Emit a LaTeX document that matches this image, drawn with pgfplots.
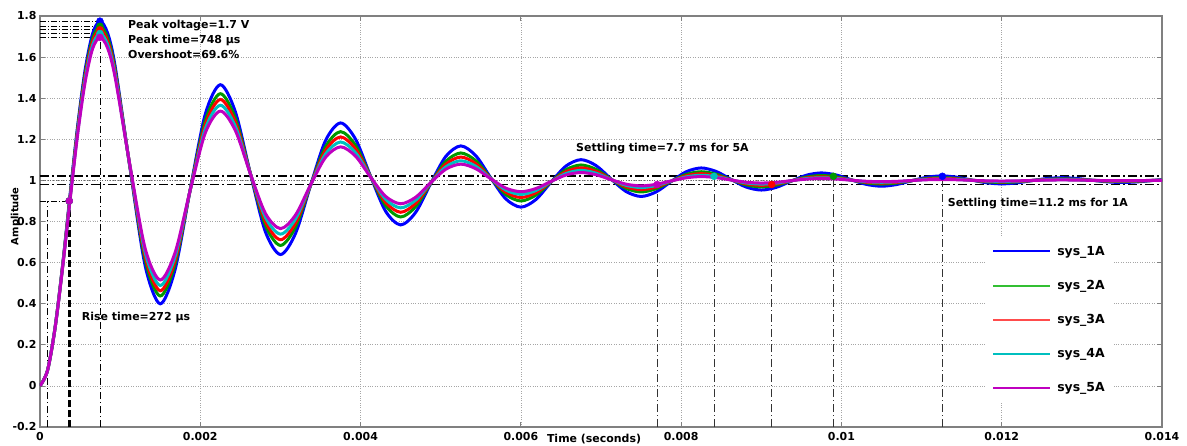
\documentclass[border=0pt]{standalone}
\usepackage{pgfplots}
\pgfplotsset{compat=1.18}
\usepackage{pgfplotstable}
\usepackage{fontspec}
\setmainfont{DejaVu Sans}
\definecolor{mblue}{rgb}{0,0,1}
\definecolor{mgreen}{rgb}{0,0.6,0}
\definecolor{mred}{rgb}{1,0,0}
\definecolor{mcyan}{rgb}{0,0.75,0.75}
\definecolor{mmag}{rgb}{0.75,0,0.75}
\definecolor{lgreen}{rgb}{0.2,0.75,0.2}
\definecolor{lred}{rgb}{1,0.3,0.3}
\newcommand{\lblfont}{\fontsize{11}{13}\selectfont\bfseries}

% time in ms, amplitude of sys_1A ... sys_5A
\pgfplotstableread{
t b g r c m
0 0 0 0 0 0
0.09375 0.075 0.075 0.075 0.075 0.075
0.1875 0.2827 0.2817 0.2810 0.2804 0.2796
0.28125 0.584 0.581 0.578 0.576 0.573
0.375 0.9286 0.9207 0.9154 0.9097 0.9038
0.46875 1.262 1.250 1.240 1.230 1.220
0.5625 1.5367 1.5177 1.5048 1.4911 1.4767
0.65625 1.714 1.691 1.675 1.658 1.641
0.75 1.775 1.750 1.733 1.715 1.696
0.84375 1.717 1.694 1.678 1.661 1.644
0.9375 1.5559 1.5387 1.5270 1.5145 1.5014
1.125 1.0554 1.0595 1.0620 1.0646 1.0670
1.3125 0.5841 0.6117 0.6300 0.6489 0.6682
1.5 0.3994 0.4375 0.4627 0.4888 0.5156
1.6875 0.5692 0.5960 0.6137 0.6321 0.6510
1.875 0.9571 0.9554 0.9545 0.9538 0.9534
2.0625 1.3223 1.2912 1.2712 1.2511 1.2309
2.25 1.4655 1.4219 1.3938 1.3655 1.3372
2.4375 1.3339 1.3030 1.2832 1.2630 1.2429
2.625 1.0332 1.0335 1.0333 1.0330 1.0324
2.8125 0.7502 0.7816 0.8012 0.8205 0.8393
3.0 0.6393 0.6836 0.7113 0.7386 0.7653
3.1875 0.7412 0.7727 0.7924 0.8119 0.8310
3.375 0.9742 0.9749 0.9756 0.9764 0.9774
3.5625 1.1936 1.1638 1.1457 1.1283 1.1119
3.75 1.2796 1.2373 1.2116 1.1869 1.1633
3.9375 1.2005 1.1705 1.1521 1.1345 1.1177
4.125 1.0200 1.0188 1.0179 1.0169 1.0157
4.3125 0.8500 0.8771 0.8932 0.9082 0.9222
4.5 0.7833 0.8220 0.8449 0.8664 0.8863
4.6875 0.8446 0.8722 0.8885 0.9038 0.9181
4.875 0.9845 0.9859 0.9869 0.9879 0.9891
5.0625 1.1163 1.0921 1.0783 1.0656 1.0542
5.25 1.1679 1.1335 1.1137 1.0955 1.0791
5.4375 1.1204 1.0959 1.0817 1.0687 1.0570
5.625 1.0120 1.0106 1.0096 1.0086 1.0076
5.8125 0.9099 0.9309 0.9426 0.9531 0.9623
6.0 0.8699 0.8999 0.9167 0.9317 0.9449
6.1875 0.9067 0.9281 0.9401 0.9508 0.9603
6.375 0.9907 0.9921 0.9929 0.9938 0.9947
6.5625 1.0698 1.0518 1.0421 1.0335 1.0262
6.75 1.1009 1.0751 1.0611 1.0488 1.0383
6.9375 1.0723 1.0539 1.0439 1.0351 1.0276
7.125 1.0072 1.0060 1.0052 1.0044 1.0037
7.3125 0.9459 0.9611 0.9692 0.9760 0.9817
7.5 0.9218 0.9437 0.9552 0.9651 0.9733
7.6875 0.9439 0.9595 0.9678 0.9749 0.9808
7.875 0.9944 0.9955 0.9962 0.9968 0.9974
8.0625 1.0420 1.0292 1.0226 1.0171 1.0127
8.25 1.0606 1.0422 1.0328 1.0250 1.0186
8.4375 1.0435 1.0303 1.0236 1.0180 1.0134
8.625 1.0043 1.0033 1.0028 1.0023 1.0018
8.8125 0.9675 0.9781 0.9834 0.9877 0.9912
9.0 0.9531 0.9683 0.9759 0.9821 0.9871
9.1875 0.9663 0.9772 0.9827 0.9872 0.9907
9.375 0.9966 0.9975 0.9980 0.9984 0.9988
9.5625 1.0252 1.0164 1.0121 1.0088 1.0062
9.75 1.0364 1.0238 1.0176 1.0128 1.0090
9.9375 1.0261 1.0171 1.0127 1.0092 1.0065
10.125 1.0026 1.0019 1.0015 1.0012 1.0009
10.3125 0.9805 0.9877 0.9911 0.9937 0.9957
10.5 0.9718 0.9822 0.9871 0.9909 0.9937
10.6875 0.9798 0.9872 0.9907 0.9934 0.9955
10.875 0.9980 0.9986 0.9989 0.9992 0.9994
11.0625 1.0151 1.0092 1.0065 1.0045 1.0030
11.25 1.0219 1.0134 1.0095 1.0065 1.0044
11.4375 1.0157 1.0096 1.0068 1.0047 1.0031
11.625 1.0016 1.0011 1.0008 1.0006 1.0004
11.8125 0.9883 0.9931 0.9952 0.9968 0.9979
12.0 0.9831 0.9900 0.9931 0.9953 0.9970
12.1875 0.9879 0.9928 0.9950 0.9966 0.9978
12.375 0.9988 0.9992 0.9994 0.9996 0.9997
12.5625 1.0091 1.0052 1.0035 1.0023 1.0014
12.75 1.0131 1.0075 1.0051 1.0033 1.0021
12.9375 1.0094 1.0054 1.0037 1.0024 1.0015
13.125 1.0009 1.0006 1.0004 1.0003 1.0002
13.3125 0.9930 0.9961 0.9974 0.9984 0.9990
13.5 0.9898 0.9944 0.9963 0.9976 0.9985
13.6875 0.9927 0.9960 0.9973 0.9983 0.9989
13.875 0.9993 0.9996 0.9997 0.9998 0.9999
14.0 1.004 1.002 1.001 1.001 1.000
}\resp

\begin{document}
\begin{tikzpicture}
\useasboundingbox (-40bp,-19bp) rectangle (1147bp,427bp);
\begin{axis}[
  scale only axis, width=1122bp, height=411bp,
  xmin=0, xmax=14, ymin=-0.2, ymax=1.8,
  xtick={0,2,4,6,8,10,12,14},
  xticklabels={0,0.002,0.004,0.006,0.008,0.01,0.012,0.014},
  ytick={-0.2,0,0.2,0.4,0.6,0.8,1,1.2,1.4,1.6,1.8},
  yticklabels={-0.2,0,0.2,0.4,0.6,0.8,1,1.2,1.4,1.6,1.8},
  tick align=inside, major tick length=5bp,
  tick style={gray, line width=0.8bp},
  axis line style={gray, line width=1.5bp},
  grid=major, major grid style={gray!70, dotted, line width=0.7bp},
  ticklabel style={font=\lblfont},
  xticklabel style={yshift=-2bp},
  xlabel={Time (seconds)}, ylabel={Amplitude},
  xlabel style={at={(axis description cs:0.4938,0)}, anchor=base, yshift=-15.5bp, font=\lblfont},
  ylabel style={at={(axis description cs:-0.0218,0.513)}, anchor=center, font=\fontsize{10}{12}\selectfont\bfseries},
  legend style={at={(0.8423,0.4625)}, anchor=north west, draw=none, fill=white,
    inner sep=7bp, row sep=19.5bp, font=\fontsize{12.5}{14}\selectfont\bfseries,
    /tikz/every odd column/.append style={column sep=4bp}},
  legend cell align=left,
  legend image code/.code={\draw[#1] (0bp,0bp) -- (57bp,0bp);},
]
% settling band and final value
\addplot[forget plot, black, line width=1.8bp, dash pattern=on 9bp off 3bp on 2bp off 3bp] coordinates {(0,1.02) (14,1.02)};
\addplot[forget plot, black, line width=1.8bp, dash pattern=on 9bp off 3bp on 2bp off 3bp] coordinates {(0,0.98) (14,0.98)};
\addplot[forget plot, black!60, line width=0.6bp, dotted] coordinates {(0,1) (14,1)};
% peak lines
\addplot[forget plot, black, line width=0.7bp, dash pattern=on 6bp off 2bp on 1bp off 2bp] coordinates {(0,1.775) (0.748,1.775)};
\addplot[forget plot, black, line width=0.7bp, dash pattern=on 6bp off 2bp on 1bp off 2bp] coordinates {(0,1.750) (0.748,1.750)};
\addplot[forget plot, black, line width=0.7bp, dash pattern=on 6bp off 2bp on 1bp off 2bp] coordinates {(0,1.733) (0.748,1.733)};
\addplot[forget plot, black, line width=0.7bp, dash pattern=on 6bp off 2bp on 1bp off 2bp] coordinates {(0,1.715) (0.748,1.715)};
\addplot[forget plot, black, line width=0.7bp, dash pattern=on 6bp off 2bp on 1bp off 2bp] coordinates {(0,1.696) (0.748,1.696)};
\addplot[forget plot, black, line width=0.7bp, dash pattern=on 7bp off 3bp on 1bp off 3bp] coordinates {(0.748,-0.2) (0.748,1.775)};
% rise time lines
\addplot[forget plot, black, line width=0.8bp, dash pattern=on 6bp off 2bp on 1bp off 2bp] coordinates {(0,0.9) (0.365,0.9)};
\addplot[forget plot, black, line width=0.8bp, dash pattern=on 7bp off 3bp on 1bp off 3bp] coordinates {(0.087,-0.2) (0.087,0.9)};
\addplot[forget plot, black, line width=2.5bp, dash pattern=on 7bp off 3bp] coordinates {(0.365,-0.2) (0.365,0.9)};
% settling time lines
\addplot[forget plot, black!80, line width=0.7bp, dash pattern=on 8bp off 3bp on 1bp off 3bp] coordinates {(7.70,-0.2) (7.70,0.98)};
\addplot[forget plot, black!80, line width=0.7bp, dash pattern=on 8bp off 3bp on 1bp off 3bp] coordinates {(8.41,-0.2) (8.41,1.02)};
\addplot[forget plot, black!80, line width=0.7bp, dash pattern=on 8bp off 3bp on 1bp off 3bp] coordinates {(9.13,-0.2) (9.13,0.98)};
\addplot[forget plot, black!80, line width=0.7bp, dash pattern=on 8bp off 3bp on 1bp off 3bp] coordinates {(9.90,-0.2) (9.90,1.02)};
\addplot[forget plot, black!80, line width=0.7bp, dash pattern=on 8bp off 3bp on 1bp off 3bp] coordinates {(11.26,-0.2) (11.26,1.02)};
% responses
\addplot[forget plot, mblue, line width=3bp, smooth] table[x=t, y=b] {\resp};
\addplot[forget plot, mgreen, line width=3bp, smooth] table[x=t, y=g] {\resp};
\addplot[forget plot, mred, line width=3bp, smooth] table[x=t, y=r] {\resp};
\addplot[forget plot, mcyan, line width=3bp, smooth] table[x=t, y=c] {\resp};
\addplot[forget plot, mmag, line width=3bp, smooth] table[x=t, y=m] {\resp};
% characteristic points
\addplot[forget plot, only marks, mark=*, mark size=3.5bp, mblue] coordinates {(0.748,1.775) (11.26,1.02) (0.365,0.9)};
\addplot[forget plot, only marks, mark=*, mark size=3.5bp, mgreen] coordinates {(0.748,1.750) (9.90,1.02) (0.365,0.9)};
\addplot[forget plot, only marks, mark=*, mark size=3.5bp, mred] coordinates {(0.748,1.733) (9.13,0.98) (0.365,0.9)};
\addplot[forget plot, only marks, mark=*, mark size=3.5bp, mcyan] coordinates {(0.748,1.715) (8.41,1.02) (0.365,0.9)};
\addplot[forget plot, only marks, mark=*, mark size=3.5bp, mmag] coordinates {(0.748,1.696) (7.70,0.98) (0.365,0.9)};
% legend
\addlegendimage{draw=mblue, line width=1.8bp}
\addlegendentry{sys\_1A}
\addlegendimage{draw=lgreen, line width=2bp}
\addlegendentry{sys\_2A}
\addlegendimage{draw=lred, line width=1.8bp}
\addlegendentry{sys\_3A}
\addlegendimage{draw=mcyan, line width=1.8bp}
\addlegendentry{sys\_4A}
\addlegendimage{draw=mmag, line width=1.8bp}
\addlegendentry{sys\_5A}
% annotations
\node[anchor=base west, inner sep=0, font=\lblfont] at (axis cs:1.098,1.739) {Peak voltage=1.7 V};
\node[anchor=base west, inner sep=0, font=\lblfont] at (axis cs:1.098,1.665) {Peak time=748 µs};
\node[anchor=base west, inner sep=0, font=\lblfont] at (axis cs:1.098,1.592) {Overshoot=69.6\%};
\node[anchor=base west, inner sep=0, font=\lblfont] at (axis cs:0.520,0.317) {Rise time=272 µs};
\node[anchor=base west, inner sep=0, font=\lblfont] at (axis cs:6.688,1.140) {Settling time=7.7 ms for 5A};
\node[anchor=base west, inner sep=0, font=\lblfont] at (axis cs:11.326,0.872) {Settling time=11.2 ms for 1A};
\end{axis}
\end{tikzpicture}
\end{document}
